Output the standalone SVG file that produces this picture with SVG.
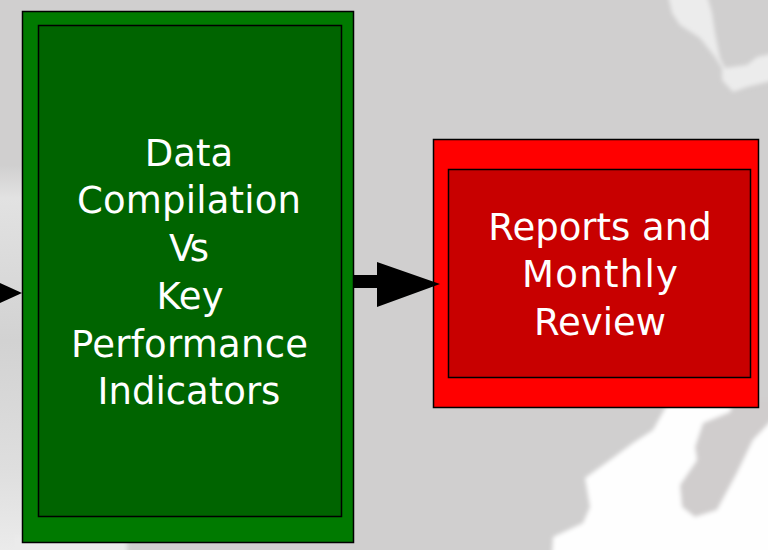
<svg xmlns="http://www.w3.org/2000/svg" width="768" height="550" viewBox="0 0 768 550">
<defs>
<style>
.lbl{font-family:"DejaVu Sans","Noto Sans",sans-serif;font-size:37px;fill:#fff;text-anchor:middle}
.box{stroke:#000;stroke-width:1.5}
</style>
<filter id="soft" x="-5%" y="-5%" width="110%" height="110%"><feGaussianBlur stdDeviation="2"/></filter>
<linearGradient id="leftfade" x1="0" y1="0" x2="0" y2="1">
<stop offset="0" stop-color="#d0cfcf"/><stop offset="0.3" stop-color="#d0cfcf"/><stop offset="0.36" stop-color="#e2e2e2"/><stop offset="0.62" stop-color="#d2d2d2"/><stop offset="0.85" stop-color="#dedede"/><stop offset="1" stop-color="#ebebeb"/>
</linearGradient>
</defs>
<g id="background">
<rect width="768" height="550" fill="#d0cfcf"/>
<rect width="22" height="550" fill="url(#leftfade)"/>
<g filter="url(#soft)">
<rect x="15" y="536" width="112" height="20" fill="#ebebeb"/>
<path fill="#fefefe" d="M667 405 L653 430 L633 443 L610 460 L585 478 L590 507 L583 523 L553 537 L552 555 L775 555 L775 405Z"/>
<path fill="#d0cdcd" d="M775 400 L733 400 L730 412 L703 423 L695 447 L697 460 L680 485 L682 507 L695 517 L717 510 L737 473 L753 440 L775 417Z"/>
<path fill="#ececec" d="M668 -5 L672 13 L680 25 L700 38 L715 57 L722 68 L722 80 L733 92 L747 87 L775 80 L775 53 L757 57 L747 65 L725 68 L720 58 L715 33 L712 13 L707 -5Z"/>
</g>
</g>
<g id="node-data">
<rect class="box" x="22.500" y="11.500" width="331" height="531" fill="#007a00"/>
<rect class="box" x="38.500" y="25.500" width="303" height="491" fill="#006400"/>
<text class="lbl" x="189" y="166">Data</text>
<text class="lbl" x="189" y="213" textLength="224">Compilation</text>
<text class="lbl" x="189" y="261" textLength="40">Vs</text>
<text class="lbl" x="190" y="309">Key</text>
<text class="lbl" x="189.500" y="357" textLength="237">Performance</text>
<text class="lbl" x="189" y="404">Indicators</text>
</g>
<g id="node-reports">
<rect class="box" x="433.500" y="139.500" width="325" height="268" fill="#ff0000"/>
<rect class="box" x="448.500" y="169.500" width="302" height="208" fill="#c80000"/>
<text class="lbl" x="600" y="240">Reports and</text>
<text class="lbl" x="600" y="287" textLength="156">Monthly</text>
<text class="lbl" x="600" y="335">Review</text>
</g>
<g id="connectors">
<path fill="#000" d="M0 283 L22 293 L0 303Z"/>
<path fill="#000" d="M354 275 L377 275 L377 262 L440 284 L377 307 L377 288 L354 288Z"/>
</g>
</svg>
